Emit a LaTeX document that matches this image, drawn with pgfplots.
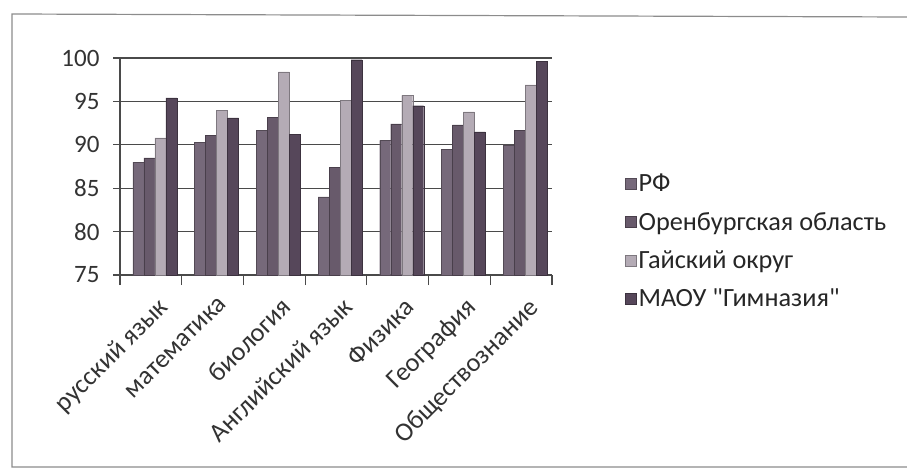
\documentclass[border=0pt]{standalone}
\usepackage{pgfplots}
\pgfplotsset{compat=1.18}
\usepackage{pgfplotstable}
\usepackage{fontspec}
\setmainfont{Carlito}
\newfontfamily\plainfont{Carlito}[Ligatures=ResetAll]
\definecolor{cA}{HTML}{76697A}
\definecolor{cB}{HTML}{685A6B}
\definecolor{cC}{HTML}{B4ABB5}
\definecolor{cD}{HTML}{56475A}
\definecolor{gridc}{HTML}{4A4A4A}
\pgfplotstableread{
x rf orb gai maou
0 88.0 88.5 90.8 95.4
1 90.3 91.1 94.0 93.1
2 91.7 93.2 98.4 91.2
3 84.0 87.4 95.1 99.8
4 90.5 92.4 95.7 94.5
5 89.5 92.3 93.8 91.5
6 90.0 91.7 96.9 99.6
}\datatable
\begin{document}
\begin{tikzpicture}
\useasboundingbox (0,0) rectangle (907pt,-471pt);
\draw[black!45, line width=1.2pt] (907pt,-17pt) -- (12pt,-14pt) -- (12pt,-467pt) -- (907pt,-467pt);
\begin{axis}[
  at={(120pt,-275pt)}, anchor=south west,
  scale only axis, width=432pt, height=217pt,
  ybar=0pt, bar width=11pt,
  ymin=75, ymax=100, ytick={75,80,...,100},
  xmin=-0.5, xmax=6.5, xtick={0,...,6},
  xticklabels={русский язык, математика, биология, Английский язык, Физика, География, Обществознание},
  minor xtick={-0.5,0.5,...,6.5},
  axis x line*=bottom, axis y line*=left,
  axis line style={gridc, line width=1.2pt, -},
  tick align=outside,
  major tick length=7pt, minor tick length=10pt,
  major x tick style={draw=none},
  minor x tick style={gridc, line width=1.2pt},
  y tick style={gridc, line width=1.2pt},
  ymajorgrids, major grid style={gridc, line width=1.2pt},
  /pgf/number format/assume math mode=true,
  tick label style={font=\fontsize{25}{28}\selectfont, text=black!80},
  yticklabel style={xshift=-10pt},
  xticklabel style={font=\fontsize{26.3}{28}\selectfont, rotate=45, anchor=north east, inner sep=1pt, xshift=-5pt, yshift=-13pt},
  legend image code/.code={\fill[#1] (0pt,-5.5pt) rectangle (11pt,5.5pt);},
  legend style={at={(1.162,0.155)}, anchor=west, draw=none, fill=none,
    font=\fontsize{26.3}{28}\selectfont, text=black!85, row sep=15pt,
    /tikz/every even column/.append style={column sep=6pt}},
  legend cell align=left,
]
\addplot[fill=cA, draw=cA!70!black, bar shift=-12.5pt] table[x=x, y=rf] {\datatable};
\addplot[fill=cB, draw=cB!70!black, bar shift=-1.5pt] table[x=x, y=orb] {\datatable};
\addplot[fill=cC, draw=cC!70!black, bar shift=9.5pt] table[x=x, y=gai] {\datatable};
\addplot[fill=cD, draw=cD!70!black, bar shift=20.5pt] table[x=x, y=maou] {\datatable};
\legend{РФ, Оренбургская область, Гайский округ, МАОУ {\plainfont"Гимназия"}}
\end{axis}
\end{tikzpicture}
\end{document}
